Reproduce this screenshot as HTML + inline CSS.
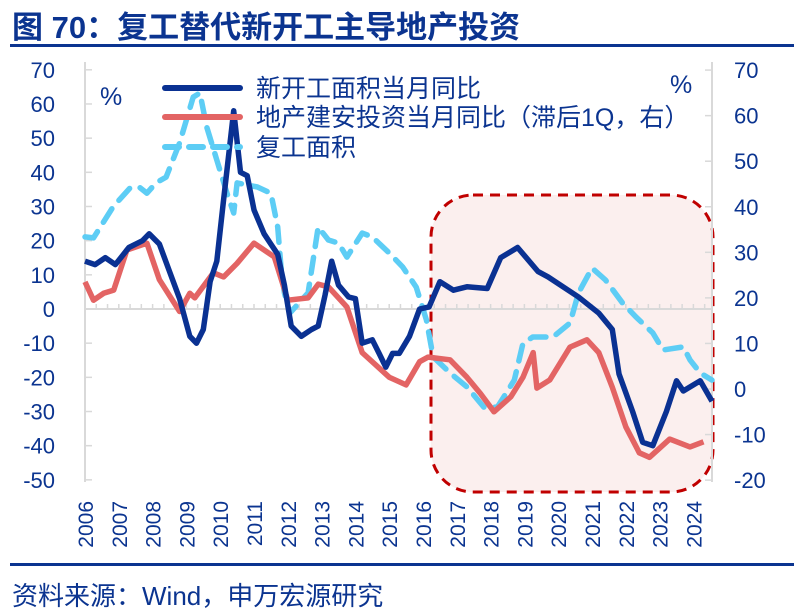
<!DOCTYPE html>
<html><head><meta charset="utf-8"><style>
body{margin:0;background:#fff;}
svg{display:block;font-family:"Liberation Sans","Noto Sans CJK SC",sans-serif;}
</style></head><body>
<svg width="804" height="613" viewBox="0 0 804 613">
<text x="12" y="38" font-size="31" font-weight="bold" fill="#0b3490">图 70：复工替代新开工主导地产投资</text>
<rect x="10" y="44" width="784" height="3" fill="#0b3490"/>
<rect x="431" y="195" width="282" height="297" rx="42" fill="#fbefee" stroke="#c00000" stroke-width="3" stroke-dasharray="10,7"/>
<g id="axes"></g>
<g id="series"></g>
<g>
<line x1="165" y1="88" x2="240" y2="88" stroke="#0a3192" stroke-width="6" stroke-linecap="round"/>
<text x="256" y="97" font-size="25" fill="#0b3490">新开工面积当月同比</text>
<line x1="165" y1="117" x2="240" y2="117" stroke="#e36464" stroke-width="6" stroke-linecap="round"/>
<text x="256" y="126" font-size="25" fill="#0b3490">地产建安投资当月同比（滞后1Q，右）</text>
<line x1="165" y1="147" x2="240" y2="147" stroke="#5dcdf5" stroke-width="6" stroke-dasharray="14,10" stroke-linecap="round"/>
<text x="256" y="156" font-size="25" fill="#0b3490">复工面积</text>
</g>
<text x="100" y="105" font-size="25" fill="#0b3490">%</text>
<text x="670" y="93" font-size="25" fill="#0b3490">%</text>
<rect x="10" y="563" width="784" height="3" fill="#0b3490"/>
<text x="12" y="605" font-size="26" fill="#0b3490">资料来源：Wind，申万宏源研究</text>
</svg>
<script>
const leftTicks=[70,60,50,40,30,20,10,0,-10,-20,-30,-40,-50];
const rightTicks=[70,60,50,40,30,20,10,0,-10,-20];
const years=[2006,2007,2008,2009,2010,2011,2012,2013,2014,2015,2016,2017,2018,2019,2020,2021,2022,2023,2024];
const navyT=[0,0.3,0.6,0.9,1.3,1.7,1.9,2.2,2.5,2.8,3.1,3.3,3.5,3.7,3.9,4.1,4.4,4.6,4.8,5.0,5.3,5.5,5.7,5.9,6.1,6.4,6.7,6.9,7.1,7.3,7.5,7.8,8.0,8.2,8.5,8.7,8.9,9.1,9.3,9.6,9.9,10.18,10.5,10.9,11.3,11.9,12.3,12.8,13.4,13.7,14.6,15.2,15.6,15.8,16.2,16.5,16.8,17.2,17.5,17.7,18.2,18.55];
const navyV=[14,13,15,13,18,20,22,19,11,3,-8,-10,-6,8,14,32,58,40,39,29,22,19,16,7,-5,-8,-6,-5,4,14,7,3.5,3,-10,-9,-13,-17,-13,-13,-8,0,0.6,8,5.5,6.5,6,15,18,11,9.4,3.5,-1.2,-6,-19,-30,-39,-40,-30,-21,-24,-21,-27];
const redT=[0,0.25,0.55,0.85,1.24,1.83,2.2,2.8,3.1,3.25,3.8,4.1,4.5,5.0,5.6,6.0,6.6,6.9,7.2,7.75,8.2,9.0,9.5,9.9,10.15,10.8,11.3,11.7,12.1,12.6,12.96,13.26,13.37,13.75,14.35,14.85,15.2,15.6,16.0,16.4,16.7,17.3,17.9,18.3];
const redV=[23.5,19.5,21,21.7,30.5,32,24,17,21,20,25.5,24.6,27.6,32,29,19.5,20,23,22.4,18,8,2.6,0.9,6,7,6.4,2.6,-1,-5,-1.7,2.6,8,0.2,2,9.2,10.8,8,0.4,-8.3,-14,-15,-11,-12.7,-11.6];
const cyanT=[0,0.25,0.83,1.33,1.6,1.83,2.1,2.4,2.8,3.2,3.4,3.6,3.9,4.2,4.4,4.5,5.1,5.5,5.7,5.8,5.9,6.06,6.6,6.9,7.2,7.5,7.75,8.2,8.5,9.0,9.4,9.8,10.1,10.3,10.8,11.3,11.8,12.2,12.7,12.96,13.25,13.85,14.35,14.6,15.0,15.4,15.9,16.3,16.8,17.1,17.7,17.9,18.2,18.55];
const cyanV=[21.1,20.8,29.9,35.4,35.7,33.9,36.9,38.6,48.6,62,63.2,53.3,43.6,33.9,28.1,36.9,35.7,33.9,24,12.3,4.7,-1.2,4.7,24,20.2,19.3,15.2,22.2,21.1,16.4,12.3,6.4,-3.2,-14,-18.7,-22.8,-28.7,-28.7,-20.8,-10,-8.2,-8.2,-4.1,4.7,12,8.5,1.8,-2.3,-7,-12,-11.1,-14.9,-18.7,-20.8];
const NS='http://www.w3.org/2000/svg';
const X0=85,XS=33.8;
const x=t=>X0+t*XS;
const yL=v=>309-v*3.417;
const yR=v=>389-v*4.556;
function mk(tag,attrs,parent){const e=document.createElementNS(NS,tag);for(const k in attrs)e.setAttribute(k,attrs[k]);parent.appendChild(e);return e;}
const ax=document.getElementById('axes'),se=document.getElementById('series');
let e=mk('line',{x1:85,y1:62,x2:85,y2:482,stroke:'#d9d9d9','stroke-width':2},ax);


e=mk('line',{x1:712,y1:62,x2:712,y2:482,stroke:'#d9d9d9','stroke-width':2},ax);


e=mk('line',{x1:85,y1:yL(0),x2:712,y2:yL(0),stroke:'#d9d9d9','stroke-width':2},ax);


for(let t=0;t<=18.5;t+=1/3){mk('line',{x1:x(t),y1:yL(0)-5,x2:x(t),y2:yL(0),stroke:'#d9d9d9','stroke-width':1.5},ax);}
leftTicks.forEach(v=>{
 mk('line',{x1:85,y1:yL(v),x2:92,y2:yL(v),stroke:'#d9d9d9','stroke-width':1.5},ax);
 const t=mk('text',{x:55,y:yL(v)+8,'font-size':22,fill:'#0b3490','text-anchor':'end'},ax);t.textContent=v;
 
 
});
rightTicks.forEach(v=>{
 mk('line',{x1:705,y1:yR(v),x2:712,y2:yR(v),stroke:'#d9d9d9','stroke-width':1.5},ax);
 const t=mk('text',{x:734,y:yR(v)+8,'font-size':22,fill:'#0b3490'},ax);t.textContent=v;
 
 
});
years.forEach((yr,i)=>{
 const cx=x(i);
 const t=mk('text',{x:0,y:0,'font-size':21,fill:'#0b3490','text-anchor':'end',transform:`translate(${cx+8},501) rotate(-90)`},ax);t.textContent=yr;
 
 
});
function line(T,V,yf,attrs,name){
 const d=T.map((t,i)=>(i?'L':'M')+x(t).toFixed(1)+','+yf(V[i]).toFixed(1)).join('');
 const p=mk('path',Object.assign({d:d,fill:'none','stroke-linejoin':'round'},attrs),se);
 
 
}
line(cyanT,cyanV,yL,{stroke:'#5dcdf5','stroke-width':5.5,'stroke-dasharray':'16,11','stroke-linecap':'round'},'series-resumed-area');
line(redT,redV,yR,{stroke:'#e36464','stroke-width':5.5},'series-construction-investment');
line(navyT,navyV,yL,{stroke:'#0a3192','stroke-width':5.5},'series-new-starts');
</script>
</body></html>
